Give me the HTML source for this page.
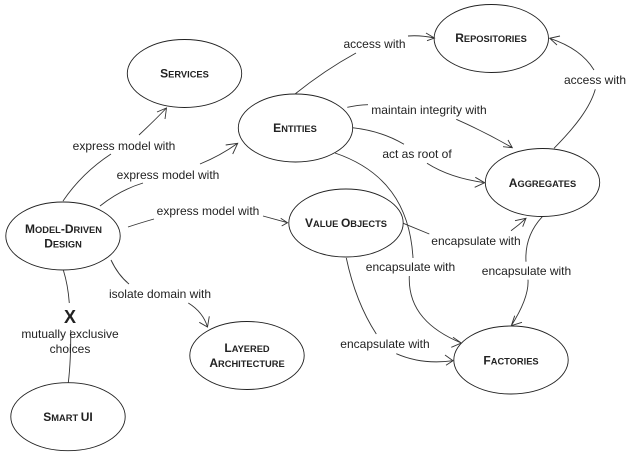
<!DOCTYPE html>
<html><head><meta charset="utf-8"><style>
html,body{margin:0;padding:0;background:#fff}
svg{display:block;filter:blur(0.3px)}
.e{fill:none;stroke:#222;stroke-width:.9}
.c{fill:none;stroke:#333;stroke-width:.9}
text{font-family:"Liberation Sans",sans-serif;fill:#222}
.l{font-size:12px;text-anchor:middle}
.n{font-weight:bold;font-size:12px;text-anchor:middle;fill:#1a1a1a}
.n tspan.s{font-size:9.3px}
</style></head><body>
<svg width="636" height="456" viewBox="0 0 636 456" xmlns="http://www.w3.org/2000/svg">
<g class="e">
<ellipse cx="184.5" cy="73.5" rx="57.2" ry="34"/>
<ellipse cx="295.5" cy="128" rx="57.2" ry="34"/>
<ellipse cx="63" cy="236" rx="57.2" ry="34"/>
<ellipse cx="346" cy="223" rx="57.2" ry="34"/>
<ellipse cx="491.3" cy="38.5" rx="57.2" ry="34"/>
<ellipse cx="542.5" cy="182.5" rx="57.2" ry="34"/>
<ellipse cx="511" cy="360" rx="57.2" ry="34"/>
<ellipse cx="247" cy="355.5" rx="57.2" ry="34"/>
<ellipse cx="68" cy="416.7" rx="57.2" ry="34"/>
</g>
<g class="c">
<path d="M63 201Q82 173 111 154M139 135Q155 120 166.5 108M157 112L166.5 108L165 119"/>
<path d="M100 206Q120 190 143 183M200 164Q220 156 237.7 143.3M225.7 145L237.7 143.3L232.7 154"/>
<path d="M128 227Q140 223 154 219M263 216L287.5 222.7M280.7 218.3L287.5 222.7L281.7 226"/>
<path d="M111 260Q118 275 129 284M188.3 303Q203 312 207.5 327M199.3 322.3L207.5 327L209.3 316.3"/>
<path d="M63.3 270Q68 285 69.3 303M70.7 330Q71 360 68.3 382.7"/>
<path d="M295 94Q325 70 356 53M408 36Q420 35 434.5 38M426 33L434.5 38L427 40.7"/>
<path d="M347.3 107.3Q358 105 368 104.7M456.3 119.3Q485 132 512.3 147.7M503 146.7L512.3 147.7L508 140"/>
<path d="M352.3 127.7Q382 131 404 144.3M427 163.3Q450 178 484.7 182.7M475.3 177.3L484.7 182.7L474.7 187.3"/>
<path d="M335 153C385 170 410 205 413 258M409.3 276C408 310 430 330 461.3 343M453 337.3L461.3 343L451.3 347.3"/>
<path d="M346.3 258C352 285 362 312 376.3 334M396.3 353.7Q422 365 453 360.7M445 355L453 360.7L446 365.3"/>
<path d="M403.3 223.3L429.3 234M511 230.7Q519 225 526 218.3M515 220.7L526 218.3L522.7 226.7"/>
<path d="M542.3 216.7C530 230 525 245 526 261.7M528 279.7C529 295 520 312 511.3 325.7M522 322.3L511.3 325.7L514.7 315.7"/>
<path d="M554 148.3C575 127 590 108 595.3 89.3M594 70C585 55 570 45 549.7 38.3M560 36L549.7 38.3L557 45"/>
</g>
<g class="l">
<text x="124" y="150">express model with</text>
<text x="168" y="179">express model with</text>
<text x="208" y="215">express model with</text>
<text x="374.5" y="48">access with</text>
<text x="429" y="114">maintain integrity with</text>
<text x="417" y="158">act as root of</text>
<text x="595" y="84">access with</text>
<text x="476" y="245">encapsulate with</text>
<text x="410.5" y="271">encapsulate with</text>
<text x="526.5" y="275">encapsulate with</text>
<text x="385" y="348">encapsulate with</text>
<text x="160" y="298">isolate domain with</text>
<text x="70" y="338">mutually exclusive</text>
<text x="70" y="353">choices</text>
</g>
<text x="70" y="323" style="font-size:18px;font-weight:bold;text-anchor:middle">X</text>
<g class="n">
<text x="184.5" y="77.5">S<tspan class="s">ERVICES</tspan></text>
<text x="295" y="132">E<tspan class="s">NTITIES</tspan></text>
<text x="63.5" y="233">M<tspan class="s">ODEL</tspan>-D<tspan class="s">RIVEN</tspan></text>
<text x="63" y="247.5">D<tspan class="s">ESIGN</tspan></text>
<text x="346" y="227">V<tspan class="s">ALUE </tspan>O<tspan class="s">BJECTS</tspan></text>
<text x="491" y="42">R<tspan class="s">EPOSITORIES</tspan></text>
<text x="542.5" y="187">A<tspan class="s">GGREGATES</tspan></text>
<text x="511" y="364.5">F<tspan class="s">ACTORIES</tspan></text>
<text x="247" y="352">L<tspan class="s">AYERED</tspan></text>
<text x="247" y="367">A<tspan class="s">RCHITECTURE</tspan></text>
<text x="68" y="421">S<tspan class="s">MART </tspan>UI</text>
</g>
</svg>
</body></html>
